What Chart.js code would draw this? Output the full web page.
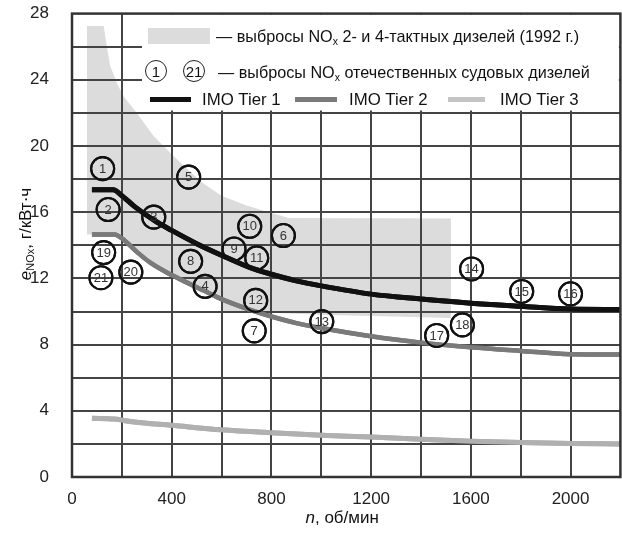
<!DOCTYPE html>
<html>
<head>
<meta charset="utf-8">
<script src="https://cdn.jsdelivr.net/npm/chart.js@4.4.1/dist/chart.umd.min.js"></script>
<style>
  html, body { margin: 0; padding: 0; background: #fff; overflow: hidden; }
</style>
</head>
<body>
<canvas id="grafica" width="634" height="536"></canvas>
<script>
// diesel numbers and their points (n, об/мин ; e NOx, г/кВт·ч)
const dieselNumbers = ['1','2','3','4','5','6','7','8','9','10','11','12','13','14','15','16','17','18','19','20','21'];
const dieselRpm = [123, 145, 328, 534, 468, 848, 731, 476, 650, 713, 741, 737, 1002, 1603, 1804, 2000, 1463, 1566, 127, 236, 116];
const dieselNox = [18.63, 16.16, 15.7, 11.52, 18.12, 14.59, 8.83, 13.03, 13.78, 15.15, 13.24, 10.67, 9.39, 12.57, 11.21, 11.07, 8.55, 9.19, 13.56, 12.38, 12.04];

// IMO limits
const tier1Rpm = [80, 165, 200, 250, 330, 400, 500, 600, 715, 800, 900, 1000, 1200, 1400, 1600, 1800, 2000, 2200];
const tier1Nox = [17.35, 17.35, 17.0, 16.35, 15.5, 14.9, 14.1, 13.4, 12.65, 12.25, 11.85, 11.55, 11.05, 10.75, 10.5, 10.32, 10.15, 10.12];
const tier2Rpm = [80, 170, 210, 260, 314, 400, 447, 530, 600, 715, 800, 900, 1000, 1200, 1400, 1600, 1800, 2000, 2200];
const tier2Nox = [14.65, 14.65, 14.3, 13.6, 12.95, 12.2, 11.85, 11.25, 10.75, 10.1, 9.7, 9.3, 9.0, 8.5, 8.12, 7.84, 7.62, 7.42, 7.4];
const tier3Rpm = [80, 170, 250, 400, 600, 800, 1000, 1200, 1400, 1600, 1800, 2000, 2200];
const tier3Nox = [3.55, 3.5, 3.32, 3.12, 2.85, 2.67, 2.52, 2.42, 2.28, 2.16, 2.08, 2.03, 2.0];

// band of 1992 emissions (outline, clockwise)
const bandRpm = [60, 127, 140, 153, 180, 207, 260, 327, 400, 470, 530, 600, 700, 800, 870, 1520, 1520, 1000, 600, 600, 530, 447, 400, 314, 260, 210, 170, 60];
const bandNox = [27.25, 27.25, 26.0, 24.85, 23.8, 23.0, 22.0, 20.6, 19.5, 18.5, 17.7, 17.0, 16.4, 15.95, 15.65, 15.62, 9.6, 9.8, 10.05, 10.8, 11.3, 11.85, 12.2, 12.95, 13.6, 14.3, 14.65, 14.65];

const xTicks = [0, 400, 800, 1200, 1600, 2000];
const yTicks = [0, 4, 8, 12, 16, 20, 24, 28];

const FONT = '"Liberation Sans", Arial, sans-serif';
const pares = (xs, ys) => xs.map((x, i) => ({ x: x, y: ys[i] }));

function textoRico(g, x, y, partes, soloMedir) {
    let x0 = x;
    partes.forEach(p => {
        g.font = p[1];
        if (!soloMedir) g.fillText(p[0], x, y + (p[2] || 0));
        x += g.measureText(p[0]).width;
    });
    return x - x0;
}

const dibujoExtra = {
    id: 'dibujoExtra',
    afterDatasetsDraw(chart) {
        const g = chart.ctx;
        const area = chart.chartArea;
        const sx = chart.scales.x, sy = chart.scales.y;

        // grid every 200 об/мин and 2 г/кВт·ч
        g.save();
        g.strokeStyle = '#444';
        g.lineWidth = 2;
        g.beginPath();
        for (let v = 200; v < 2200; v += 200) {
            const px = Math.round(sx.getPixelForValue(v));
            g.moveTo(px, area.top);
            g.lineTo(px, area.bottom);
        }
        for (let v = 2; v < 28; v += 2) {
            const py = Math.round(sy.getPixelForValue(v));
            g.moveTo(area.left, py);
            g.lineTo(area.right, py);
        }
        g.stroke();
        g.restore();

        // lines and circles again, above the grid
        [3, 2, 1, 0].forEach(i => chart.getDatasetMeta(i).controller.draw());

        g.save();
        // numbers inside the circles
        const meta = chart.getDatasetMeta(0);
        g.fillStyle = '#333';
        g.textAlign = 'center';
        g.textBaseline = 'middle';
        g.font = '13px ' + FONT;
        meta.data.forEach((pt, i) => g.fillText(dieselNumbers[i], pt.x, pt.y + 0.5));

        // legend box
        g.fillStyle = '#fff';
        g.fillRect(142, 14.5, area.right - 142 - 1.5, 96);
        g.textAlign = 'left';
        g.textBaseline = 'alphabetic';
        const f = '16.2px ' + FONT, fs = '10.5px ' + FONT;

        g.fillStyle = '#dcdcdc';
        g.fillRect(148, 28, 62, 16);
        g.fillStyle = '#111';
        textoRico(g, 216, 42, [['— выбросы NO', f], ['x', fs, 3], [' 2- и 4-тактных дизелей (1992 г.)', f]]);

        g.strokeStyle = '#222';
        g.lineWidth = 1;
        [[156, '1'], [194, '21']].forEach(c => {
            g.beginPath();
            g.arc(c[0], 71, 10.5, 0, Math.PI * 2);
            g.stroke();
            g.textAlign = 'center';
            g.font = '15px ' + FONT;
            g.fillText(c[1], c[0], 76.5);
        });
        g.textAlign = 'left';
        textoRico(g, 218, 78, [['— выбросы NO', f], ['x', fs, 3], [' отечественных судовых дизелей', f]]);

        const filas = [[150, 191, '#111', 202, 'IMO Tier 1'], [295, 337, '#7a7a7a', 349, 'IMO Tier 2'], [448, 485, '#c4c4c4', 500, 'IMO Tier 3']];
        filas.forEach(r => {
            g.strokeStyle = r[2];
            g.lineWidth = 5;
            g.beginPath();
            g.moveTo(r[0], 99.5);
            g.lineTo(r[1], 99.5);
            g.stroke();
            g.font = '16.8px ' + FONT;
            g.fillText(r[4], r[3], 105);
        });

        // frame
        g.strokeStyle = '#333';
        g.lineWidth = 2.5;
        g.strokeRect(area.left, area.top, area.right - area.left, area.bottom - area.top);
        g.restore();
    },
    afterDraw(chart) {
        const g = chart.ctx;
        const area = chart.chartArea;
        g.save();
        g.fillStyle = '#111';
        g.textAlign = 'left';
        g.textBaseline = 'alphabetic';
        const f = '17px ' + FONT, fi = 'italic 17px ' + FONT, fs = '11px ' + FONT;

        // x title
        const tx = [['n', fi], [', об/мин', f]];
        const wx = textoRico(g, 0, 0, tx, true);
        textoRico(g, (area.left + area.right) / 2 - 4 - wx / 2, 523, tx);

        // y title
        const ty = [['e', fi], ['NOx', fs, 3], [', г/кВт·ч', f]];
        const wy = textoRico(g, 0, 0, ty, true);
        g.translate(31, 234);
        g.rotate(-Math.PI / 2);
        textoRico(g, -wy / 2, 0, ty);
        g.restore();
    }
};

const grafica = new Chart(document.getElementById('grafica'), {
    type: 'line',
    data: {
        datasets: [{
            type: 'scatter',
            label: 'Дизели',
            data: pares(dieselRpm, dieselNox),
            pointRadius: 11.5,
            pointBorderWidth: 2.1,
            pointBorderColor: '#111',
            pointBackgroundColor: 'rgba(0,0,0,0)',
            showLine: false
        }, {
            label: 'IMO Tier 1',
            data: pares(tier1Rpm, tier1Nox),
            borderColor: '#111',
            borderWidth: 5,
            pointRadius: 0,
            cubicInterpolationMode: 'monotone',
            fill: false
        }, {
            label: 'IMO Tier 2',
            data: pares(tier2Rpm, tier2Nox),
            borderColor: '#7a7a7a',
            borderWidth: 4.5,
            pointRadius: 0,
            cubicInterpolationMode: 'monotone',
            fill: false
        }, {
            label: 'IMO Tier 3',
            data: pares(tier3Rpm, tier3Nox),
            borderColor: '#b0b0b0',
            borderWidth: 5,
            pointRadius: 0,
            cubicInterpolationMode: 'monotone',
            fill: false
        }, {
            label: '1992',
            data: pares(bandRpm, bandNox),
            borderWidth: 0,
            borderColor: 'rgba(0,0,0,0)',
            backgroundColor: '#dcdcdc',
            pointRadius: 0,
            tension: 0,
            fill: 'shape'
        }]
    },
    options: {
        responsive: false,
        animation: false,
        layout: { padding: { left: 0, right: 2, top: 13, bottom: 0 } },
        plugins: {
            legend: { display: false },
            tooltip: { enabled: false }
        },
        scales: {
            x: {
                type: 'linear',
                min: 0,
                max: 2200,
                afterFit: s => { s.height = 59; },
                grid: { display: false },
                border: { display: false },
                ticks: {
                    stepSize: 200,
                    autoSkip: false,
                    maxRotation: 0,
                    padding: 4,
                    color: '#222',
                    font: { family: FONT, size: 17 },
                    callback: v => xTicks.includes(v) ? String(v) : ''
                }
            },
            y: {
                min: 0,
                max: 28,
                afterFit: s => { s.width = 72; s.paddingTop = 0; s.paddingBottom = 0; },
                grid: { display: false },
                border: { display: false },
                ticks: {
                    stepSize: 2,
                    autoSkip: false,
                    padding: 15,
                    color: '#222',
                    font: { family: FONT, size: 17 },
                    callback: v => yTicks.includes(v) ? String(v) : ''
                }
            }
        }
    },
    plugins: [dibujoExtra]
});
</script>
</body>
</html>
